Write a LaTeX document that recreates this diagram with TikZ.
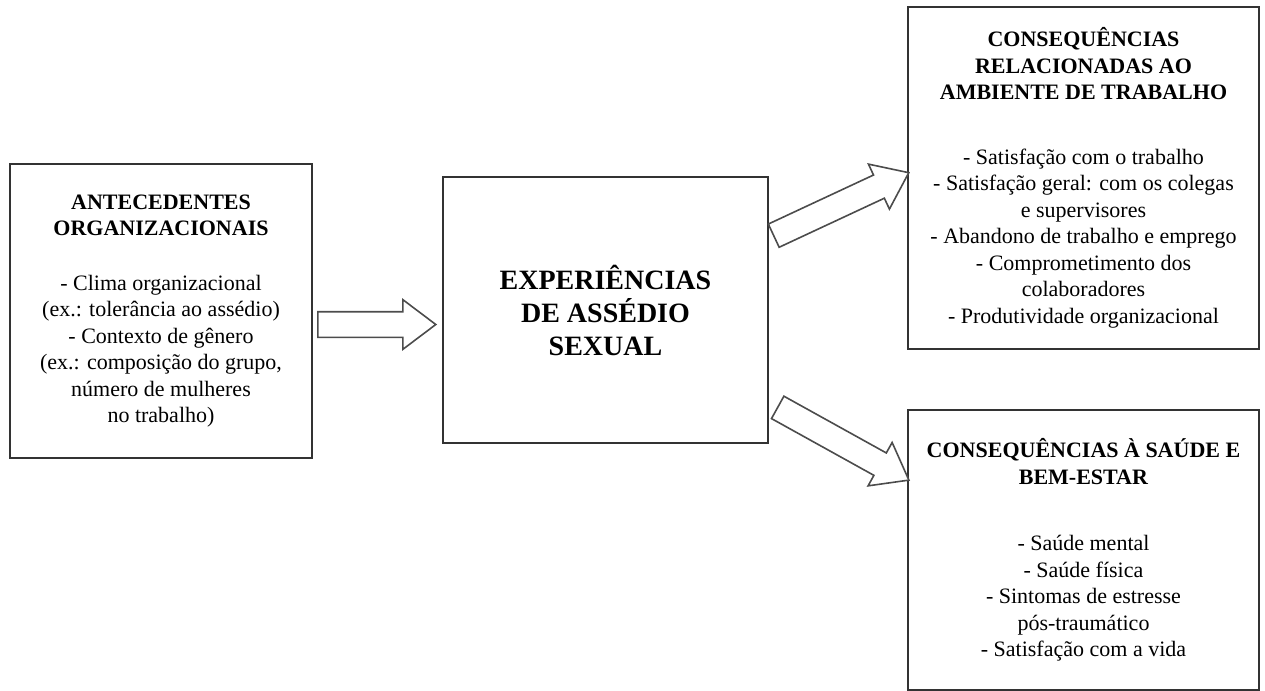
\documentclass[tikz,border=0pt]{standalone}
\usepackage{fontspec}
\setmainfont{Liberation Serif}
\usetikzlibrary{shapes.arrows, positioning, calc}

\begin{document}
\begin{tikzpicture}[x=0.5pt, y=-0.5pt,
    box/.style={rectangle, draw=black!80, line width=1pt, align=center,
                font=\fontsize{11}{13.25}\selectfont, inner sep=0pt},
    bigbox/.style={box, font=\fontsize{14}{16.5}\selectfont\bfseries},
    blockarrow/.style={single arrow, draw=black!70, line width=0.8pt, fill=white,
                       single arrow head extend=6pt, single arrow tip angle=74,
                       inner xsep=0pt, inner ysep=6pt, anchor=tail},
]

\useasboundingbox (0,0) rectangle (1265,691);

% Antecedents (left)
\node[box, minimum width=151pt, minimum height=147pt] (ante) at (161,311)
    {\textbf{ANTECEDENTES}\\ \textbf{ORGANIZACIONAIS}\\[14pt]
     - Clima organizacional\\ (ex.: tolerância ao assédio)\\
     - Contexto de gênero\\ (ex.: composição do grupo,\\
     número de mulheres\\ no trabalho)};

% Harassment experiences (centre)
\node[bigbox, minimum width=162.5pt, minimum height=133pt] (exper) at (605.5,310)
    {EXPERIÊNCIAS\\ DE ASSÉDIO\\ SEXUAL};

% Consequences: work environment (top right)
\node[box, minimum width=175.5pt, minimum height=171pt] (trab) at (1083.5,178)
    {\textbf{CONSEQUÊNCIAS}\\ \textbf{RELACIONADAS AO}\\ \textbf{AMBIENTE DE TRABALHO}\\[19pt]
     - Satisfação com o trabalho\\ - Satisfação geral: com os colegas\\
     e supervisores\\ - Abandono de trabalho e emprego\\
     - Comprometimento dos\\ colaboradores\\ - Produtividade organizacional};

% Consequences: health and well-being (bottom right)
\node[box, minimum width=175.5pt, minimum height=140pt] (saude) at (1083.5,550)
    {\textbf{CONSEQUÊNCIAS À SAÚDE E}\\ \textbf{BEM-ESTAR}\\[20pt]
     - Saúde mental\\ - Saúde física\\ - Sintomas de estresse\\
     pós-traumático\\ - Satisfação com a vida};

% Block arrows between boxes
\node[blockarrow, minimum height=59pt] (a1) at ($(ante.east)+(4,13.5)$) {};
\node[blockarrow, minimum height=74.5pt, rotate=25] (a2) at ($(exper.east)+(4,-74)$) {};
\node[blockarrow, minimum height=75pt, rotate=-29] (a3) at ($(exper.east)+(8,97)$) {};

\end{tikzpicture}
\end{document}
